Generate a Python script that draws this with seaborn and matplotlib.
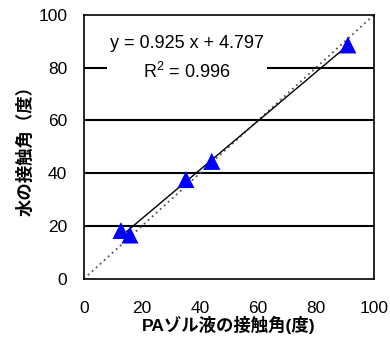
import numpy as np
import pandas as pd
import seaborn as sns
import matplotlib
matplotlib.use("Agg")
import matplotlib.pyplot as plt

# data
pa_sol = [12.8, 15.9, 35.2, 44.1, 91.0]
water = [18.3, 16.6, 37.6, 44.5, 88.6]
ticks = [0, 20, 40, 60, 80, 100]
fit_text = "y = 0.925 x + 4.797\nR$^2$ = 0.996"
xlabel = "PAゾル液の接触角(度)"
ylabel = "水の接触角（度）"

sns.set_style("white")
plt.rcParams['font.family'] = ['Liberation Sans', 'Noto Sans CJK JP', 'DejaVu Sans']
plt.rcParams['mathtext.default'] = 'regular'
plt.rcParams['text.color'] = 'black'
plt.rcParams['axes.labelcolor'] = 'black'
plt.rcParams['xtick.labelcolor'] = 'black'
plt.rcParams['ytick.labelcolor'] = 'black'

df = pd.DataFrame({'pa': pa_sol, 'water': water})

fig = plt.figure(figsize=(3.9, 3.38), dpi=100)
ax = fig.add_axes([0.215, 0.175, 0.744, 0.781])

for v in ticks[1:-1]:
    ax.axhline(v, color='black', lw=1.5, zorder=1)

ax.plot([0, 100], [0, 100], ls=(0, (1, 2)), color='#555555', lw=1.3, zorder=2)
sns.regplot(data=df, x='pa', y='water', ci=None, truncate=True, ax=ax,
            scatter=False, line_kws={'color': 'black', 'lw': 1.0, 'zorder': 3})
sns.scatterplot(data=df, x='pa', y='water', marker='^', s=150, color='#0000ff',
                edgecolor='none', ax=ax, zorder=4, clip_on=False)

ax.text(35.5, 83.5, fit_text, ha='center', va='center', fontsize=13, linespacing=1.6,
        color='black', bbox=dict(facecolor='white', edgecolor='none', pad=2), zorder=5)

ax.set_xlim(0, 100)
ax.set_ylim(0, 100)
ax.set_xticks(ticks)
ax.set_yticks(ticks)
ax.tick_params(axis='x', direction='in', length=5, width=1, pad=16, labelsize=12.5,
               color='#444444', labelcolor='black')
ax.tick_params(axis='y', length=0, pad=12, labelsize=12.5, labelcolor='black')
for s in ax.spines.values():
    s.set_color('black')
    s.set_linewidth(1.2)

ax.set_xlabel(xlabel, fontsize=12.5, fontweight='bold', labelpad=0, color='black')
ax.set_ylabel(ylabel, fontsize=12.5, fontweight='bold', labelpad=3, color='black')

fig.savefig('out.png', dpi=100)
